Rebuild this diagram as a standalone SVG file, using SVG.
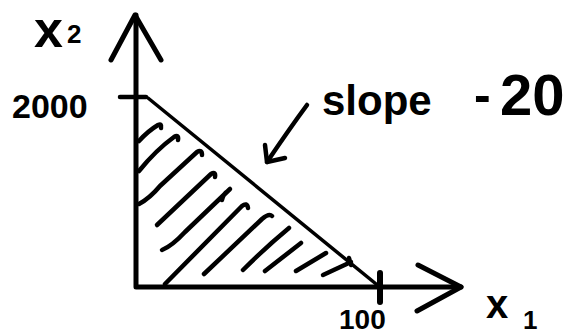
<svg xmlns="http://www.w3.org/2000/svg" width="566" height="336" viewBox="0 0 566 336">
<style>
.ink{fill:none;stroke:#000;stroke-linecap:round;stroke-linejoin:round}
.ax{stroke-width:5}
.ht{stroke-width:4.5}
.lb{font-family:"Liberation Sans",Arial,sans-serif;font-weight:bold;fill:#000}
</style>
<rect width="566" height="336" fill="#fff"/>
<g id="axes" class="ink ax">
  <path d="M136,15 V287 H461"/>
  <path d="M111,60 L135,15 L161,60"/>
  <path d="M418,265 L461,287 L417,311"/>
  <path d="M120,97 H146" stroke-width="4.5"/>
  <path d="M380,273 V302" stroke-width="6"/>
</g>
<g id="constraint" class="ink">
  <path d="M148,98 L381,288" stroke-width="3.5"/>
</g>
<g id="hatching" class="ink ht">
  <path d="M139,141 Q148,131 158,125 q4,-2 3,3"/>
  <path d="M139,171 Q156,150 174,137 q5,-3 4,3"/>
  <path d="M139,204 Q150,198 160,186 L197,152 q5,-3 5,3"/>
  <path d="M157,225 L211,174 q5,-3 4,3"/>
  <path d="M162,250 Q172,246 185,232 L230,189 M222,200 q1,-6 6,-9"/>
  <path d="M165,284 L242,206 q5,-4 6,2"/>
  <path d="M204,274 L262,219 q7,-6 10,-3"/>
  <path d="M243,270 Q266,247 289,228"/>
  <path d="M265,271 L301,243"/>
  <path d="M296,271 L326,253"/>
  <path d="M323,275 L351,262 M349,258 l2,7"/>
</g>
<g id="slope-arrow" class="ink" stroke-width="4.5">
  <path d="M307,105 Q290,128 267,162"/>
  <path d="M265,145 L267,162 L285,158"/>
</g>
<g id="label-x2">
  <text class="lb" x="34" y="47" font-size="52">x<tspan x="67" y="43" font-size="26">2</tspan></text>
</g>
<g id="label-2000">
  <text class="lb" x="12" y="118" font-size="34">2000</text>
</g>
<g id="label-slope">
  <text class="lb" x="322" y="115" font-size="42">slope <tspan x="474" y="112" font-size="50">-</tspan><tspan x="500" y="115" font-size="58">20</tspan></text>
</g>
<g id="label-100">
  <text class="lb" x="339" y="329" font-size="28">100</text>
</g>
<g id="label-x1">
  <text class="lb" x="486" y="318" font-size="40">x<tspan x="523" y="329" font-size="26">1</tspan></text>
</g>
</svg>
